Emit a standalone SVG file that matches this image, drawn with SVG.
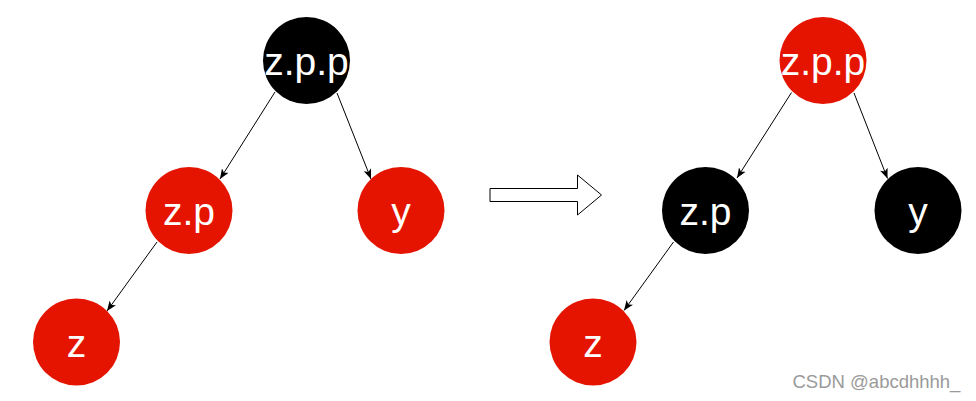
<svg xmlns="http://www.w3.org/2000/svg" width="976" height="401" viewBox="0 0 976 401">
  <style>
    .red { fill: #e51400; }
    .blk { fill: #000000; }
    .lbl { fill: #ffffff; font-family: "Liberation Sans", Arial, sans-serif; font-size: 39px; text-anchor: middle; }
    .edge { stroke: #000000; stroke-width: 1; fill: none; marker-end: url(#arr); }
    .wm { fill: #9a9a9a; font-family: "Liberation Sans", Arial, sans-serif; font-size: 18.5px; }
  </style>
  <defs>
    <marker id="arr" viewBox="0 0 10 8" refX="10" refY="4" markerWidth="10" markerHeight="8" markerUnits="userSpaceOnUse" orient="auto">
      <path d="M10,4 L0,0 L2.5,4 L0,8 Z" fill="#000"/>
    </marker>
  </defs>
  <rect width="976" height="401" fill="#ffffff"/>

  <g id="connectors">
    <line class="edge" x1="275" y1="92" x2="220" y2="179"/>
    <line class="edge" x1="337" y1="93" x2="371" y2="179"/>
    <line class="edge" x1="157" y1="242" x2="107" y2="311"/>
    <line class="edge" x1="791.5" y1="92.5" x2="737" y2="178"/>
    <line class="edge" x1="854" y1="93" x2="887.5" y2="178.5"/>
    <line class="edge" x1="673.5" y1="242" x2="624" y2="310.5"/>
  </g>

  <g id="left-zpp">
    <circle class="blk" cx="306.5" cy="60.5" r="43.5"/>
    <text class="lbl" x="306.5" y="75">z.p.p</text>
  </g>
  <g id="left-zp">
    <circle class="red" cx="189" cy="210.5" r="43.5"/>
    <text class="lbl" x="189" y="225">z.p</text>
  </g>
  <g id="left-y">
    <circle class="red" cx="401" cy="210.5" r="43.5"/>
    <text class="lbl" x="401" y="225">y</text>
  </g>
  <g id="left-z">
    <circle class="red" cx="76.5" cy="342" r="43.5"/>
    <text class="lbl" x="76.5" y="356.5">z</text>
  </g>

  <g id="transform-arrow">
    <polygon points="490,188.5 577.5,188.5 577.5,175 601.5,195 577.5,215 577.5,201.5 490,201.5" fill="#ffffff" stroke="#000000" stroke-width="1"/>
  </g>

  <g id="right-zpp">
    <circle class="red" cx="823" cy="60.5" r="43.5"/>
    <text class="lbl" x="823" y="75">z.p.p</text>
  </g>
  <g id="right-zp">
    <circle class="blk" cx="705.5" cy="210.5" r="43.5"/>
    <text class="lbl" x="705.5" y="225">z.p</text>
  </g>
  <g id="right-y">
    <circle class="blk" cx="918" cy="210.5" r="43.5"/>
    <text class="lbl" x="918" y="225">y</text>
  </g>
  <g id="right-z">
    <circle class="red" cx="593" cy="342" r="43.5"/>
    <text class="lbl" x="593" y="356.5">z</text>
  </g>

  <text class="wm" x="792.5" y="388">CSDN @abcdhhhh_</text>
</svg>
